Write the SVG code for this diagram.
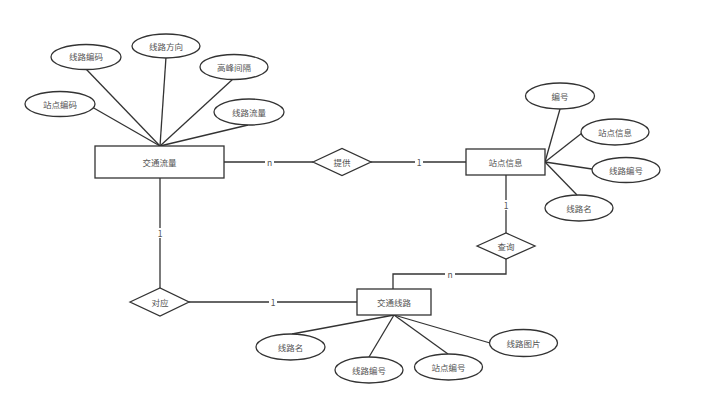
<svg xmlns="http://www.w3.org/2000/svg" width="720" height="403" viewBox="0 0 720 403">
<style>
.s{fill:#fff;stroke:#333;stroke-width:1.3}
.c{fill:none;stroke:#333;stroke-width:1.3}
text{font-family:"Noto Sans CJK SC","Liberation Sans",sans-serif;font-size:8.5px;fill:#555;text-anchor:middle;dominant-baseline:central}
.lb{fill:#fff;stroke:none}
</style>
<rect width="720" height="403" fill="#fff"/>
<g id="connectors">
<path class="c" d="M86,69 L160,146"/>
<path class="c" d="M166,57 L160,146"/>
<path class="c" d="M233,79 L160,146"/>
<path class="c" d="M92,107 L160,146"/>
<path class="c" d="M248,125 L160,146"/>
<path class="c" d="M560,109 L545,162"/>
<path class="c" d="M582,133 L545,162"/>
<path class="c" d="M592,169 L545,162"/>
<path class="c" d="M577,195 L545,162"/>
<path class="c" d="M292,334 L394,315"/>
<path class="c" d="M369,357 L394,315"/>
<path class="c" d="M448,354 L394,315"/>
<path class="c" d="M490,343 L394,315"/>
<path class="c" d="M224,162 L313,162"/>
<path class="c" d="M371,162 L466,162"/>
<path class="c" d="M506,175 L506,233"/>
<path class="c" d="M506,259 L506,274 L393,274 L393,289"/>
<path class="c" d="M160,178 L160,288"/>
<path class="c" d="M189,302 L357,302"/>
<rect class="lb" x="265" y="157" width="9" height="10"/><text x="269.5" y="162">n</text>
<rect class="lb" x="415" y="157" width="8" height="10"/><text x="419" y="162">1</text>
<rect class="lb" x="501" y="200" width="10" height="10"/><text x="506" y="205">1</text>
<rect class="lb" x="445" y="269" width="10" height="10"/><text x="450" y="274">n</text>
<rect class="lb" x="155" y="228" width="10" height="10"/><text x="160" y="233">1</text>
<rect class="lb" x="269" y="297" width="8" height="10"/><text x="273" y="302">1</text>
</g>
<g id="jiaotongliuliang"><rect class="s" x="95" y="146" width="129" height="32"/><text x="159.5" y="162">交通流量</text></g>
<g id="zhandianxinxi"><rect class="s" x="466" y="149" width="79" height="26"/><text x="505.5" y="162">站点信息</text></g>
<g id="jiaotongxianlu"><rect class="s" x="357" y="289" width="74" height="26"/><text x="394" y="302">交通线路</text></g>
<g id="tigong"><polygon class="s" points="313,162 342,148.5 371,162 342,175.5"/><text x="342" y="162">提供</text></g>
<g id="chaxun"><polygon class="s" points="477,246 506,233 535,246 506,259"/><text x="506" y="246">查询</text></g>
<g id="duiying"><polygon class="s" points="130,302 160,288 189,302 160,316"/><text x="160" y="302">对应</text></g>
<g id="a1"><ellipse class="s" cx="86" cy="57" rx="35" ry="12.5"/><text x="86" y="56">线路编码</text></g>
<g id="a2"><ellipse class="s" cx="166" cy="46" rx="34" ry="12"/><text x="166" y="46">线路方向</text></g>
<g id="a3"><ellipse class="s" cx="234" cy="67" rx="34" ry="12.5"/><text x="234" y="67">高峰间隔</text></g>
<g id="a4"><ellipse class="s" cx="60" cy="104" rx="35" ry="12.5"/><text x="60" y="104">站点编码</text></g>
<g id="a5"><ellipse class="s" cx="249" cy="112" rx="35" ry="13"/><text x="249" y="112">线路流量</text></g>
<g id="b1"><ellipse class="s" cx="560" cy="96" rx="34.5" ry="13"/><text x="560" y="96">编号</text></g>
<g id="b2"><ellipse class="s" cx="615" cy="132" rx="34" ry="13"/><text x="615" y="132">站点信息</text></g>
<g id="b3"><ellipse class="s" cx="626" cy="170" rx="34" ry="12.5"/><text x="626" y="170">线路编号</text></g>
<g id="b4"><ellipse class="s" cx="579" cy="208" rx="34" ry="13"/><text x="579" y="208">线路名</text></g>
<g id="c1"><ellipse class="s" cx="290.5" cy="347" rx="34.5" ry="13"/><text x="290.5" y="347">线路名</text></g>
<g id="c2"><ellipse class="s" cx="369" cy="370" rx="34" ry="13"/><text x="369" y="370">线路编号</text></g>
<g id="c3"><ellipse class="s" cx="448.5" cy="367" rx="34" ry="13"/><text x="448.5" y="367">站点编号</text></g>
<g id="c4"><ellipse class="s" cx="523.5" cy="343" rx="34" ry="13.5"/><text x="523.5" y="343">线路图片</text></g>
</svg>
